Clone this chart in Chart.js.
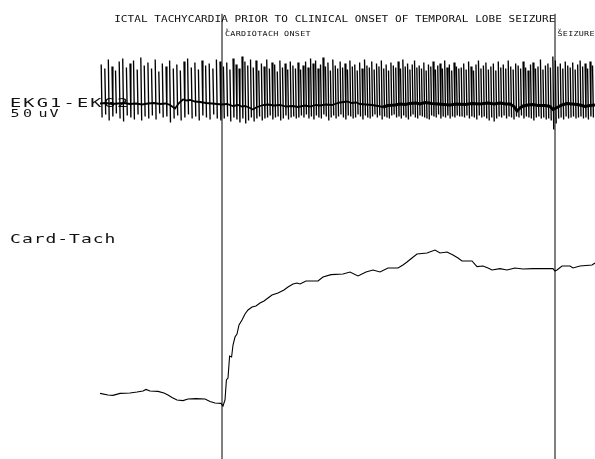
<!DOCTYPE html>
<html>
<head>
<meta charset="utf-8">
<script src="https://cdn.jsdelivr.net/npm/chart.js@4.4.1/dist/chart.umd.min.js"></script>
<style>
  html, body { margin: 0; padding: 0; background: #fff; }
  canvas { display: block; }
</style>
</head>
<body>
<canvas id="trace" width="595" height="459"></canvas>
<script>
// ---- Recording data (time in seconds from start of trace) ----

// R-wave times of each beat, s
const beatTime = [
  0.3, 1.2, 2.08, 3.0, 3.88, 4.8, 5.68, 6.6, 7.5, 8.38, 9.3, 10.2, 11.06, 11.98, 12.88, 13.8, 14.7,
  15.58, 16.5, 17.4, 18.32, 19.2, 20.08, 21.0, 21.9, 22.82, 23.72, 24.6, 25.5, 26.4, 27.3, 28.22, 29.1, 30.0,
  30.85, 31.68, 32.48, 33.26, 34.02, 34.77, 35.5, 36.22, 36.93, 37.63, 38.32, 39.0, 39.68, 40.35,
  41.02, 41.68, 42.34, 43.0, 43.66, 44.32, 44.97, 45.62, 46.27, 46.92, 47.57, 48.22, 48.86, 49.5,
  50.14, 50.77, 51.39, 52.02, 52.64, 53.27, 53.89, 54.51, 55.13, 55.75, 56.36, 56.98, 57.59, 58.2,
  58.81, 59.42, 60.03, 60.64, 61.25, 61.86, 62.47, 63.08, 63.69, 64.3, 64.91, 65.52, 66.13, 66.73,
  67.33, 67.93, 68.53, 69.13, 69.73, 70.33, 70.93, 71.53, 72.13, 72.73, 73.33, 73.93, 74.53, 75.12,
  75.71, 76.3, 76.89, 77.47, 78.05, 78.63, 79.21, 79.79, 80.37, 80.95, 81.53, 82.11, 82.69, 83.27,
  83.85, 84.43, 85.01, 85.59, 86.17, 86.75, 87.33, 87.92, 88.51, 89.1, 89.7,
  90.31, 90.92, 91.53, 92.14, 92.75, 93.37, 93.99, 94.61, 95.23, 95.85, 96.47, 97.09, 97.71, 98.33,
  98.95, 99.57, 100.19, 100.81, 101.43, 102.05, 102.67, 103.29, 103.91, 104.53, 105.15, 105.77,
  106.39, 107.01, 107.63, 108.25, 108.87, 109.49, 110.11, 110.73, 111.35, 111.97, 112.59, 113.21,
  113.83, 114.45, 115.07, 115.69, 116.31, 116.93, 117.55, 118.17, 118.79, 119.41, 120.03, 120.65,
  121.27, 121.89, 122.51, 123.13
];

// QRS peak of each beat, uV
const beatPeak = [
  78, 70, 88, 74, 66, 84, 90, 72, 80, 86, 68, 92, 76, 82, 70, 88, 64, 80, 74, 86, 70, 78, 66, 84, 90, 72, 82, 68, 86, 76, 80, 70, 88, 84,
  74, 82, 68, 90, 78, 70, 94, 84, 76, 88, 72, 86, 66, 80, 74, 88, 70, 82, 78, 64, 86, 72, 80, 68, 84, 76, 70, 82,
  68, 76, 84, 72, 90, 80, 86, 70, 78, 92, 74, 82, 66, 88, 76, 70, 84, 72, 80, 68, 86, 74, 78, 66, 82, 70, 88, 76, 72, 84, 68, 80, 74, 86,
  70, 78, 66, 82, 76, 72, 84, 70, 88, 74, 80, 68, 78, 86, 72, 76, 70, 82, 66, 78, 74, 84, 68, 76, 80, 70, 86, 72, 78, 66, 82, 74, 70,
  72, 80, 68, 84, 74, 66, 78, 86, 70, 76, 82, 68, 74, 80, 66, 84, 72, 78, 70, 86, 74, 68, 80, 76, 70, 84, 72,
  66, 78, 82, 70, 74, 88, 68, 76, 80, 72, 94, 86, 74, 80, 70, 84, 76, 72, 82, 68, 78, 86, 74, 80, 70, 84, 76
];

// QRS trough of each beat, uV
const beatTrough = [
  -28, -22, -34, -26, -20, -30, -36, -24, -28, -32, -22, -34, -26, -30, -24, -32, -20, -28, -26, -38, -30, -24, -34, -28, -22, -30, -26, -34, -24, -28, -32, -22, -30, -34,
  -30, -26, -36, -28, -32, -38, -30, -40, -34, -28, -36, -30, -26, -34, -30, -28, -24, -32, -28, -26, -34, -30, -24, -32, -28, -26, -30, -28,
  -24, -28, -22, -30, -26, -32, -24, -28, -30, -22, -26, -34, -28, -24, -30, -26, -22, -28, -32, -24, -26, -30, -28, -22, -26, -32, -24, -28, -30, -26, -22, -28, -24, -32,
  -26, -28, -30, -24, -22, -28, -26, -30, -24, -28, -32, -26, -22, -28, -30, -24, -26, -28, -30, -32, -24, -26, -28, -22, -30, -26, -28, -24, -30, -26, -28, -24, -26,
  -26, -28, -24, -30, -26, -28, -32, -24, -28, -26, -30, -34, -28, -36, -30, -26, -28, -24, -30, -26, -28, -32, -26, -28, -24, -30, -26,
  -28, -30, -34, -28, -26, -30, -28, -32, -30, -34, -52, -40, -30, -28, -32, -26, -30, -28, -26, -30, -28, -26, -30, -28, -32, -26, -28
];

// EKG baseline drift, s / uV
const driftTime = [0, 1.5, 3, 4.5, 6, 7.5, 9, 10.5, 12, 13.5, 15, 16.5, 17.5, 18.75, 19.75, 20.75, 21.75, 22.5,
  23.75, 25, 26.5, 28, 29.25, 30.5, 31.75, 33.25, 34.5, 35.5, 36.25, 37.25, 38.25, 39, 40, 41, 42, 43.5, 45,
  46.5, 48.25, 49.5, 51.25, 52.5, 54, 55, 56.5, 58, 58.75, 60, 61.75, 63, 64, 65, 66.5, 68, 69.5, 70.75, 72,
  73.75, 75, 76.25, 77.5, 79, 80, 81.25, 83, 84.5, 86, 87.5, 89, 91.25, 93, 95, 97, 98.5, 100, 101.5, 102.5,
  103.5, 104.25, 105, 105.75, 107, 108.25, 109.5, 111.25, 112.5, 113.25, 114.5, 115.5, 116.75, 118, 119.25,
  120.5, 121.25, 122.5, 123.75];
const driftLevel = [0, 1, -1, 0, 1, -1, 0, -2, 0, 1, -1, 0, -3, -10, 1, 8, 6, 7,
  4, 3, 1, 0, -1, -2, -1, -5, -3, -6, -5, -8, -12, -8, -5, -3, -2, -4, -3,
  -6, -5, -7, -4, -6, -3, -4, -2, -3, -1, 2, 4, 1, 2, -1, -2, -3, -5, -7, -4,
  -3, -1, -2, 0, 1, -1, 2, 0, -1, -2, -3, -1, -2, 0, -1, 1, -1, 1, -1, -1,
  -6, -15, -9, -5, -3, -2, -4, -4, -6, -12, -7, -3, 0, -1, -2,
  -4, -6, -4, -3];

// Cardiotachometer output, s / beats per minute
const tachTime = [0, 2, 3.25, 5, 7.5, 9.25, 10.75, 11.5, 12.5, 14.5, 16, 17, 18, 19.25, 20.75, 22, 24, 26.25,
  27.5, 28.75, 30.25, 30.75, 31.25, 31.6, 32, 32.4, 32.9, 33.25, 33.75, 34.25, 34.75, 35.5, 36.25, 37, 38,
  39, 40, 41, 42, 43, 44.5, 46, 47, 48.25, 49.25, 50, 51.5, 54.5, 55.75, 57.75, 60.75, 62.5, 64.5, 66.5,
  68.25, 70, 72, 74.5, 75.75, 76.75, 78, 79.25, 81.75, 83.75, 85, 86.75, 88.25, 89.5, 90.5, 93, 94.25,
  95.75, 97, 98, 100, 101.75, 103.75, 105.75, 108.25, 113.25, 113.75, 114.25, 115.5, 117.5, 118.25, 120, 123, 123.75];
const tachRate = [68.4, 68, 67.9, 68.4, 68.5, 68.75, 69, 69.4, 69, 68.9, 68.5, 68, 67.4, 66.75, 66.6, 67, 67.1, 67,
  66.4, 66, 65.9, 65.25, 66.75, 71.75, 72.25, 77.75, 77.5, 80.5, 82.5, 83.25, 85.5, 86.75, 88.25, 89.25, 90,
  90.25, 91, 91.5, 92.25, 93, 93.5, 94.25, 95, 95.75, 96, 95.75, 96.5, 96.5, 97.5, 98.1, 98.25, 98.75, 97.75, 98.75,
  99.25, 98.75, 99.75, 99.75, 100.5, 101.25, 102.25, 103.25, 103.5, 104.25, 103.5, 103.75, 103, 102.25, 101.5, 101.5, 100.1,
  100.25, 99.75, 99.25, 99.6, 99.25, 99.75, 99.5, 99.6, 99.6, 99, 99.25, 100.25, 100.25, 99.75, 100.25, 100.5, 101];

// Event marks, s
const eventTime  = [30.5, 113.75];
const eventLabel = ['CARDIOTACH ONSET', 'SEIZURE'];

const titleText = 'ICTAL TACHYCARDIA PRIOR TO CLINICAL ONSET OF TEMPORAL LOBE SEIZURE';
const ekgLabel  = 'EKG1-EKG2';
const ekgScale  = ['50', 'uV'];
const tachLabel = 'Card-Tach';

// ---- Build plotting series ----
const spikePoints = [];
const nBeats = Math.min(beatTime.length, beatPeak.length, beatTrough.length);
for (let i = 0; i < nBeats; i++) {
  spikePoints.push({ x: beatTime[i], y: beatPeak[i] });
  spikePoints.push({ x: beatTime[i] + 0.22, y: beatTrough[i] });
  spikePoints.push({ x: beatTime[i] + 0.22, y: null });
}
const driftPoints = driftTime.map((t, i) => ({ x: t, y: driftLevel[i] }));
const tachPoints = tachTime.map((t, i) => ({ x: t, y: tachRate[i] }));

const TACH_MIN = 52, TACH_MAX = 166.75;
const MARK_TOP = 163.3;
const eventPoints = [];
eventTime.forEach(t => {
  eventPoints.push({ x: t, y: TACH_MIN });
  eventPoints.push({ x: t, y: MARK_TOP });
  eventPoints.push({ x: t, y: null });
});

// Plotter-style lettering: fixed pitch, widened glyphs
function plotText(ctx, text, cx0, cy, size, pitch, stretch) {
  ctx.save();
  ctx.font = size + 'px "DejaVu Sans Mono"';
  ctx.fillStyle = '#111';
  ctx.textAlign = 'center';
  ctx.textBaseline = 'middle';
  for (let i = 0; i < text.length; i++) {
    const ch = text[i];
    if (ch === ' ') continue;
    ctx.save();
    ctx.translate(cx0 + i * pitch, cy);
    ctx.scale(stretch, 1);
    ctx.fillText(ch, 0, 0);
    ctx.restore();
  }
  ctx.restore();
}

const lettering = {
  id: 'lettering',
  beforeDatasetsDraw(chart) {
    const ctx = chart.ctx;
    const xs = chart.scales.x;
    plotText(ctx, titleText, 117.5, 20, 8.5, 6.685, 1.3);
    // event captions start just right of each mark
    const p0 = xs.getPixelForValue(eventTime[0]);
    const p1 = xs.getPixelForValue(eventTime[1]);
    plotText(ctx, eventLabel[0], p0 + 5.5, 34, 7, 5.37, 1.2);
    plotText(ctx, eventLabel[1], p1 + 5, 34, 7, 5.33, 1.2);
    plotText(ctx, 'v', p0 + 5, 29.5, 4.5, 1, 1);
    plotText(ctx, 'v', p1 + 4.5, 29.5, 4.5, 1, 1);
    plotText(ctx, ekgLabel, 15.5, 103.5, 12, 13.4, 1.55);
    plotText(ctx, ekgScale[0], 15, 114.5, 10, 12.5, 1.5);
    plotText(ctx, ekgScale[1], 43, 114.5, 10, 11, 1.5);
    plotText(ctx, tachLabel, 15.5, 239.5, 12, 11.8, 1.5);
  }
};

new Chart(document.getElementById('trace'), {
  type: 'line',
  data: {
    datasets: [
      {
        label: 'EKG',
        data: spikePoints,
        yAxisID: 'ekg',
        borderColor: '#000',
        borderWidth: 1.35,
        pointRadius: 0,
        spanGaps: false,
        tension: 0
      },
      {
        label: 'EKG baseline',
        data: driftPoints,
        yAxisID: 'ekg',
        borderColor: '#000',
        borderWidth: 2,
        segment: { borderWidth: c => (c.p0.parsed.x > 70 ? 3 : 1.8) },
        pointRadius: 0,
        tension: 0
      },
      {
        label: 'Card-Tach',
        data: tachPoints,
        yAxisID: 'tach',
        borderColor: '#000',
        borderWidth: 1.1,
        pointRadius: 0,
        tension: 0
      },
      {
        label: 'Events',
        data: eventPoints,
        yAxisID: 'tach',
        borderColor: '#000',
        borderWidth: 1,
        pointRadius: 0,
        spanGaps: false
      }
    ]
  },
  options: {
    responsive: false,
    animation: false,
    events: [],
    layout: { padding: 0 },
    plugins: { legend: { display: false }, tooltip: { enabled: false }, title: { display: false } },
    scales: {
      x: { type: 'linear', min: -25, max: 123.75, display: false },
      ekg: { type: 'linear', min: -711, max: 207, display: false },
      tach: { type: 'linear', min: TACH_MIN, max: TACH_MAX, display: false }
    }
  },
  plugins: [lettering]
});
</script>
</body>
</html>
